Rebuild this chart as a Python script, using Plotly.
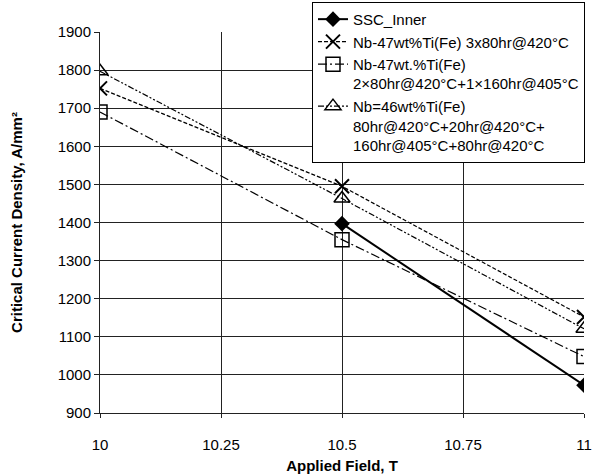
import plotly.graph_objects as go

field = [10, 10.5, 11]
ssc_inner = [None, 1397, 973]
nb47_3x80 = [1752, 1495, 1152]
nb47_2x80 = [1690, 1355, 1048]
nb46_multi = [1797, 1463, 1121]

names = [
    "SSC_Inner",
    "Nb-47wt%Ti(Fe) 3x80hr@420°C",
    "Nb-47wt.%Ti(Fe)<br>2×80hr@420°C+1×160hr@405°C",
    "Nb=46wt%Ti(Fe)<br>80hr@420°C+20hr@420°C+<br>160hr@405°C+80hr@420°C",
]

x_tickvals = [10, 10.25, 10.5, 10.75, 11]
x_ticktext = ["10", "10.25", "10.5", "10.75", "11"]
y_tickvals = [900, 1000, 1100, 1200, 1300, 1400, 1500, 1600, 1700, 1800, 1900]

FONT = "Liberation Sans, Arial, sans-serif"

fig = go.Figure()
fig.add_trace(go.Scatter(
    x=field, y=ssc_inner, name=names[0], mode="lines+markers",
    line=dict(color="black", width=2),
    marker=dict(symbol="diamond", size=12, color="black"),
))
fig.add_trace(go.Scatter(
    x=field, y=nb47_3x80, name=names[1], mode="lines+markers",
    line=dict(color="black", width=1.2, dash="4px,2px"),
    marker=dict(symbol="x-thin-open", size=14, color="black",
                line=dict(color="black", width=2)),
))
fig.add_trace(go.Scatter(
    x=field, y=nb47_2x80, name=names[2], mode="lines+markers",
    line=dict(color="black", width=1.2, dash="9px,3px,2px,3px"),
    marker=dict(symbol="square-open", size=14, color="black",
                line=dict(color="black", width=1.5)),
))
fig.add_trace(go.Scatter(
    x=field, y=nb46_multi, name=names[3], mode="lines+markers",
    line=dict(color="black", width=1.2, dash="6px,2px,2px,2px,2px,2px"),
    marker=dict(symbol="triangle-up-open", size=14, color="black",
                line=dict(color="black", width=1.5)),
))

fig.update_layout(
    width=608, height=474,
    margin=dict(l=100, r=24, t=32, b=61, autoexpand=False),
    paper_bgcolor="white", plot_bgcolor="white",
    font=dict(family=FONT, size=15, color="black"),
    showlegend=True,
    legend=dict(
        x=0.438, y=1.079, xanchor="left", yanchor="top",
        bgcolor="white", bordercolor="black", borderwidth=1,
        font=dict(family=FONT, size=15, color="black"),
        tracegroupgap=3, itemwidth=30, valign="top",
    ),
    xaxis=dict(
        range=[10, 11], tickvals=x_tickvals, ticktext=x_ticktext,
        showgrid=True, gridcolor="#222", gridwidth=1,
        zeroline=False, showline=True, linecolor="#222", linewidth=1,
        ticks="outside", ticklen=4, tickcolor="#222",
        tickfont=dict(size=15), ticklabelstandoff=14,
        title=dict(text="<b>Applied Field, T</b>", font=dict(size=15), standoff=13),
    ),
    yaxis=dict(
        range=[900, 1900], tickvals=y_tickvals,
        showgrid=True, gridcolor="#222", gridwidth=1,
        zeroline=False, showline=True, linecolor="#222", linewidth=1,
        ticks="outside", ticklen=5, tickcolor="#222",
        tickfont=dict(size=15),
        title=dict(text="<b>Critical Current Density, A/mm²</b>", font=dict(size=15), standoff=31),
    ),
)

fig.write_html("out.html", config={"displayModeBar": False},
               post_script="document.body.style.margin='0px';document.body.style.padding='0px';")
